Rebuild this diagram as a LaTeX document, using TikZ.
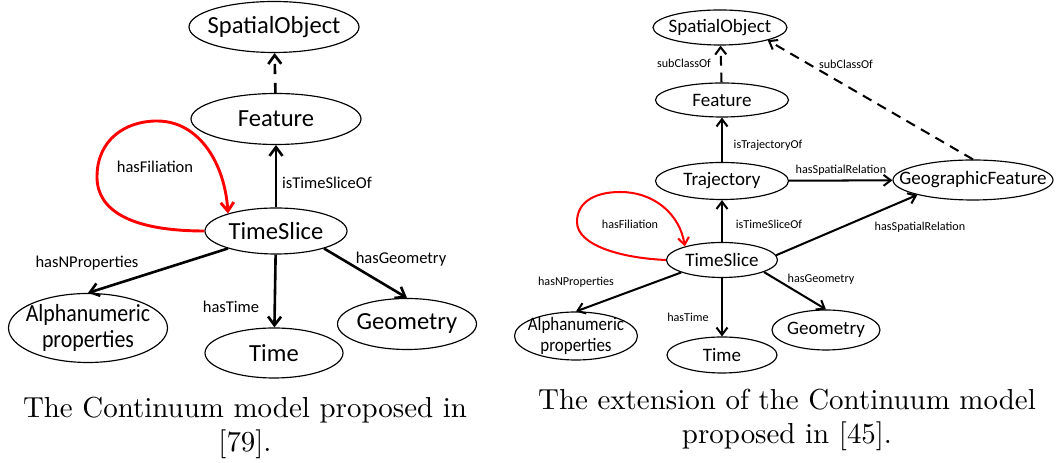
\documentclass[tikz,border=0pt]{standalone}
\usepackage{fontspec}
\newfontfamily\calfont{Carlito}
\newfontfamily\calnarrow[FakeStretch=0.89]{Carlito}
\usetikzlibrary{shapes.geometric, arrows.meta}

\begin{document}
\begin{tikzpicture}[x=0.3456pt, y=-0.3456pt,
    cls/.style 2 args={ellipse, draw, line width=0.4pt, inner sep=-30pt, align=center,
        minimum width=#1*0.3456pt, minimum height=#2*0.3456pt},
    lbl/.style={inner sep=0pt},
    caption/.style={align=center, font=\fontsize{10}{12}\selectfont}]
\useasboundingbox (0,0) rectangle (1056,463);

% Continuum model
\begin{scope}[every node/.append style={font=\calfont\fontsize{8.5}{9}\selectfont},
    lbl/.append style={font=\calfont\fontsize{5.7}{6}\selectfont},
    >={Straight Barb[length=3pt,width=4.5pt]}, line width=0.9pt]
\node[cls={170}{51}] (so1) at (274,27) {SpatialObject};
\node[cls={170}{51}] (feat1) at (276,119) {Feature};
\node[cls={142}{46}] (ts1) at (276,231) {TimeSlice};
\node[cls={159}{69}, font=\calnarrow\fontsize{8.5}{9}\selectfont] (alpha1) at (88,328) {Alphanumeric\\properties};
\node[cls={138}{50}] (time1) at (274,353) {Time};
\node[cls={139}{51}] (geom1) at (407,324) {Geometry};

\draw[->, dash pattern=on 3.5pt off 3pt] (feat1) -- (so1);
\draw[->] (ts1) -- (feat1);
\draw[->, red, line width=1pt] (ts1.west) .. controls (130,231) and (97,210) .. (97,177)
    .. controls (97,140) and (125,121) .. (157,121)
    .. controls (200,121) and (225,165) .. (ts1.160);
\draw[->] (ts1.200) -- (alpha1.north);
\draw[->] (ts1) -- (time1);
\draw[->] (ts1.-20) -- (geom1.north);

\node[lbl] (tso1) at (327,183) {isTimeSliceOf};
\node[lbl] (fil1) at (155,167) {hasFiliation};
\node[lbl] (np1) at (87,263) {hasNProperties};
\node[lbl] (ht1) at (231,307) {hasTime};
\node[lbl] (hg1) at (401,259) {hasGeometry};
\end{scope}

% extension
\begin{scope}[every node/.append style={font=\calfont\fontsize{6.57}{7.3}\selectfont},
    lbl/.append style={font=\calfont\fontsize{4.2}{5}\selectfont},
    >={Straight Barb[length=2.5pt,width=3.8pt]}, line width=0.7pt]
\node[cls={134}{35}] (so2) at (720,27.5) {SpatialObject};
\node[cls={133}{34}] (feat2) at (722,100) {Feature};
\node[cls={133}{37}] (traj2) at (722,181) {Trajectory};
\node[cls={160}{40}] (geo2) at (973,180) {GeographicFeature};
\node[cls={111}{35}] (ts2) at (722,260) {TimeSlice};
\node[cls={123}{48}, font=\calnarrow\fontsize{6.57}{7.3}\selectfont] (alpha2) at (576,336) {Alphanumeric\\properties};
\node[cls={110}{36}] (time2) at (722,355) {Time};
\node[cls={108}{40}] (geom2) at (826,330) {Geometry};

\draw[->, dash pattern=on 3.4pt off 2.4pt] (feat2) -- (so2);
\draw[->, dash pattern=on 3.4pt off 2.4pt] (geo2.north) -- (so2.-15);
\draw[->] (traj2) -- (feat2);
\draw[->] (traj2) -- (geo2);
\draw[->] (ts2) -- (traj2);
\draw[->] (ts2.5) -- (geo2.195);
\draw[->, red] (ts2.west) .. controls (620,258) and (577,245) .. (577,222)
    .. controls (577,200) and (598,192) .. (620,192)
    .. controls (655,192) and (680,215) .. (ts2.160);
\draw[->] (ts2.197) -- (alpha2.north);
\draw[->] (ts2) -- (time2);
\draw[->] (ts2.-16) -- (geom2.north);

\node[lbl] (sc2a) at (684,63) {subClassOf};
\node[lbl] (sc2b) at (846,64) {subClassOf};
\node[lbl] (tro2) at (768,145) {isTrajectoryOf};
\node[lbl] (sr2a) at (841,170) {hasSpatialRelation};
\node[lbl] (fil2) at (630,224) {hasFiliation};
\node[lbl] (tso2) at (769,224) {isTimeSliceOf};
\node[lbl] (sr2b) at (920,227) {hasSpatialRelation};
\node[lbl] (np2) at (576,282) {hasNProperties};
\node[lbl] (ht2) at (688,317) {hasTime};
\node[lbl] (hg2) at (821,279) {hasGeometry};
\end{scope}

\node[caption] (cap1) at (245,428) {The Continuum model proposed in\\{}[79].};
\node[caption] (cap2) at (787,420) {The extension of the Continuum model\\proposed in [45].};
\end{tikzpicture}
\end{document}
